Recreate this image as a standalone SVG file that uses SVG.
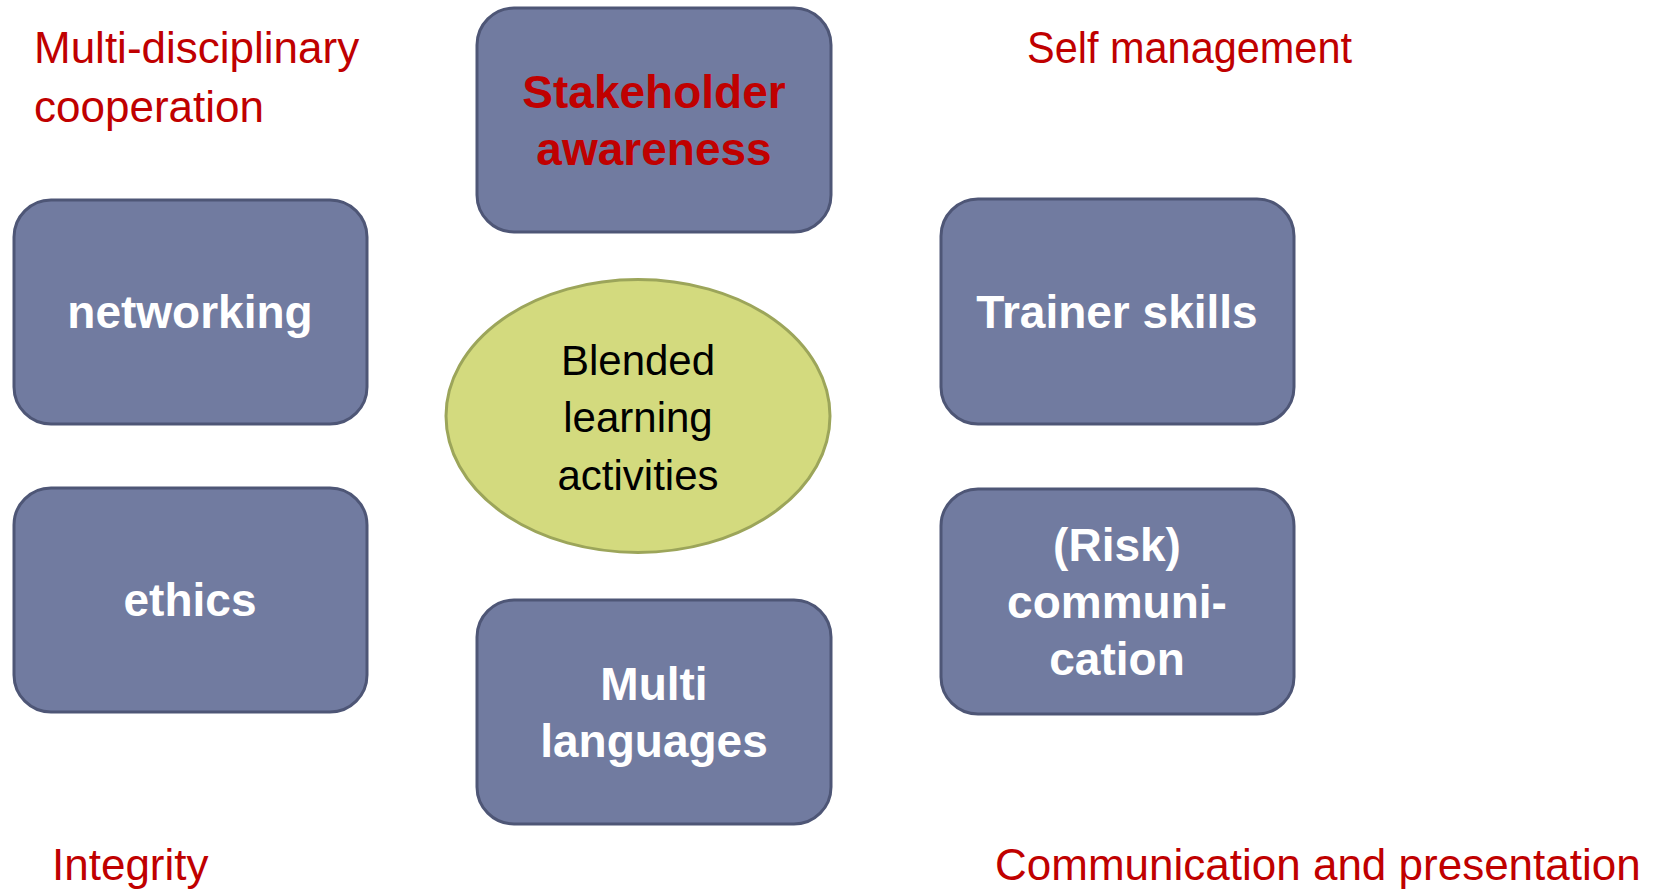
<svg xmlns="http://www.w3.org/2000/svg" width="1655" height="891" viewBox="0 0 1655 891">
<style>
.box{fill:#717BA0;stroke:#4E5676;stroke-width:3}
.bt{font-family:"Liberation Sans",Arial,sans-serif;font-weight:bold;font-size:46px;fill:#FFFFFF;text-anchor:middle}
.red{font-family:"Liberation Sans",Arial,sans-serif;font-size:44px;fill:#C00000}
.ct{font-family:"Liberation Sans",Arial,sans-serif;font-size:42px;fill:#000000;text-anchor:middle}
</style>
<rect width="1655" height="891" fill="#FFFFFF"/>
<g id="connectors"/>
<g id="label-multidisciplinary">
<text class="red" x="34" y="63">Multi-disciplinary</text>
<text class="red" x="34" y="122">cooperation</text>
</g>
<g id="label-self-management"><text class="red" x="1027" y="63" textLength="325" lengthAdjust="spacingAndGlyphs">Self management</text></g>
<g id="label-integrity"><text class="red" x="52" y="880">Integrity</text></g>
<g id="label-communication"><text class="red" x="995" y="880">Communication and presentation</text></g>
<g id="stakeholder">
<rect class="box" x="477" y="8" width="354" height="224" rx="37"/>
<text class="bt" x="654" y="108" style="fill:#C00000">Stakeholder</text>
<text class="bt" x="654" y="165" style="fill:#C00000">awareness</text>
</g>
<g id="networking">
<rect class="box" x="14" y="200" width="353" height="224" rx="37"/>
<text class="bt" x="190" y="328">networking</text>
</g>
<g id="trainer">
<rect class="box" x="941" y="199" width="353" height="225" rx="37"/>
<text class="bt" x="1117" y="328">Trainer skills</text>
</g>
<g id="ethics">
<rect class="box" x="14" y="488" width="353" height="224" rx="37"/>
<text class="bt" x="190" y="616">ethics</text>
</g>
<g id="multi-languages">
<rect class="box" x="477" y="600" width="354" height="224" rx="37"/>
<text class="bt" x="654" y="700">Multi</text>
<text class="bt" x="654" y="757">languages</text>
</g>
<g id="risk-communication">
<rect class="box" x="941" y="489" width="353" height="225" rx="37"/>
<text class="bt" x="1117" y="561">(Risk)</text>
<text class="bt" x="1117" y="618">communi-</text>
<text class="bt" x="1117" y="675">cation</text>
</g>
<g id="blended">
<ellipse cx="638" cy="416" rx="192" ry="136.5" fill="#D3DA7E" stroke="#9CA55A" stroke-width="3"/>
<text class="ct" x="638" y="375">Blended</text>
<text class="ct" x="638" y="432">learning</text>
<text class="ct" x="638" y="490">activities</text>
</g>
</svg>
